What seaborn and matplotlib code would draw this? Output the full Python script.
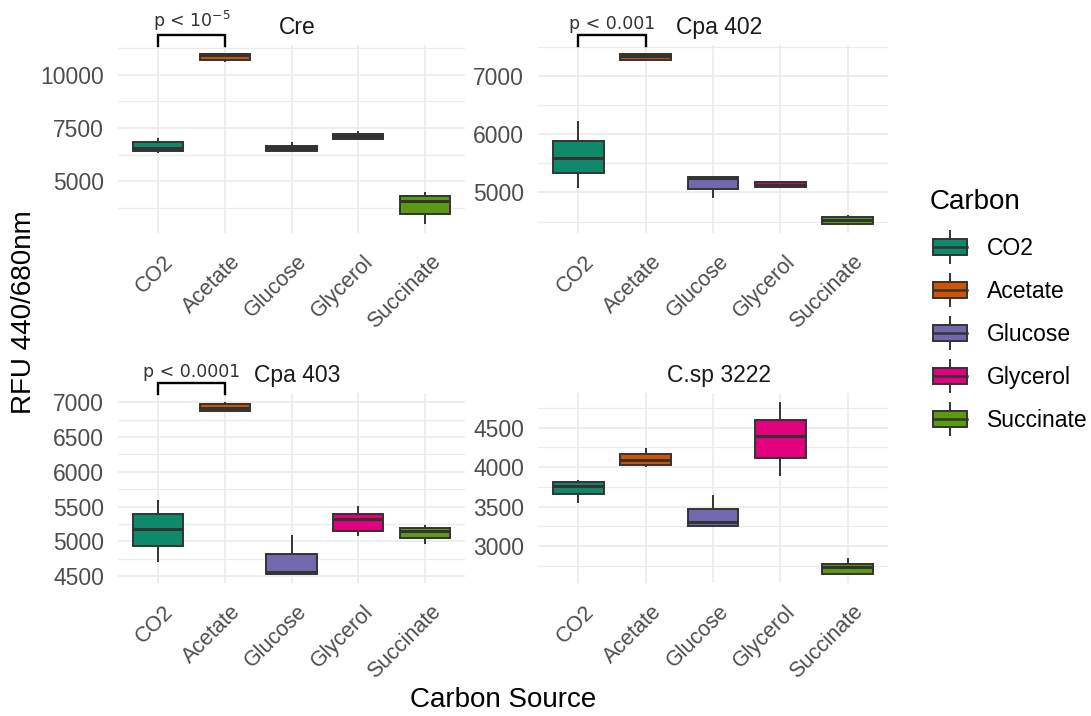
import numpy as np
import pandas as pd
import matplotlib
matplotlib.use("Agg")
import matplotlib.pyplot as plt
import seaborn as sns
import matplotlib.transforms as mtransforms
from matplotlib.legend_handler import HandlerBase
from matplotlib.patches import Rectangle, Patch
from matplotlib.lines import Line2D
from matplotlib.ticker import MultipleLocator, AutoMinorLocator

# ---------------- data ----------------
carbon = ["CO2", "Acetate", "Glucose", "Glycerol", "Succinate"]
colors = ["#0E8A6A", "#D35400", "#7069AE", "#E2007C", "#5C9A12"]
strains = ["Cre", "Cpa 402", "Cpa 403", "C.sp 3222"]

# five readings per carbon source (low, Q1, median, Q3, high)
cre = [[6320, 6430, 6560, 6844, 7034],
       [10605, 10685, 10930, 11000, 11010],
       [6430, 6430, 6540, 6668, 6844],
       [6987, 6987, 7115, 7225, 7382],
       [2955, 3431, 4069, 4288, 4497]]
cpa402 = [[5080, 5327, 5587, 5886, 6222],
          [7265, 7270, 7345, 7374, 7380],
          [4895, 5055, 5241, 5270, 5270],
          [5085, 5085, 5125, 5171, 5201],
          [4450, 4450, 4519, 4578, 4606]]
cpa403 = [[4709, 4937, 5180, 5388, 5592],
          [6879, 6879, 6917, 6976, 7010],
          [4524, 4524, 4563, 4816, 5097],
          [5073, 5155, 5316, 5388, 5510],
          [4961, 5049, 5146, 5194, 5228]]
csp3222 = [[3547, 3655, 3754, 3806, 3841],
           [4000, 4022, 4095, 4159, 4237],
           [3259, 3259, 3302, 3470, 3642],
           [3892, 4121, 4388, 4595, 4828],
           [2642, 2642, 2729, 2772, 2849]]
pvalues = ["p < 10$^{-5}$", "p < 0.001", "p < 0.0001", None]
tick_steps = [2500, 1000, 500, 500]

panel_values = [cre, cpa402, cpa403, csp3222]

# ---------------- styling ----------------
FONT = ["Liberation Sans", "DejaVu Sans"]
plt.rcParams["font.family"] = FONT
EDGE = "#333333"
TICKC = "#4D4D4D"

fig = plt.figure(figsize=(10.91, 7.16), dpi=100)
W, H = 1091, 716
# panel boxes in pixels: left, top, right, bottom
boxes = [(118, 45, 465, 233), (538, 45, 888, 233),
         (118, 393, 465, 583), (538, 393, 888, 583)]

for i, (strain, vals) in enumerate(zip(strains, panel_values)):
    l, t, r, b = boxes[i]
    ax = fig.add_axes([l / W, 1 - b / H, (r - l) / W, (b - t) / H])
    rows = []
    for c, obs in zip(carbon, vals):
        for v in obs:
            rows.append({"Carbon": c, "RFU": v})
    df = pd.DataFrame(rows)
    sns.boxplot(data=df, x="Carbon", y="RFU", hue="Carbon", order=carbon,
                hue_order=carbon, palette=colors, saturation=1, width=0.75,
                whis=(0, 100), showcaps=False, linecolor=EDGE, linewidth=1.4,
                medianprops=dict(linewidth=2.2, color=EDGE),
                legend=False, ax=ax)
    allv = np.array(vals).ravel()
    lo, hi = allv.min(), allv.max()
    pad = 0.05 * (hi - lo)
    ax.set_ylim(lo - pad, hi + pad)
    ax.set_xlim(-0.6, len(carbon) - 0.4)
    ax.yaxis.set_major_locator(MultipleLocator(tick_steps[i]))
    ax.yaxis.set_minor_locator(AutoMinorLocator(2))
    ax.set_axisbelow(True)
    ax.grid(which="major", color="#EBEBEB", linewidth=1.2)
    ax.grid(which="minor", axis="y", color="#EBEBEB", linewidth=0.9)
    for s in ax.spines.values():
        s.set_visible(False)
    ax.tick_params(which="both", length=0, labelcolor=TICKC)
    ax.tick_params(axis="y", labelsize=16.5, pad=10)
    ax.tick_params(axis="x", labelsize=15.5, pad=3)
    ax.set_xlabel("")
    ax.set_ylabel("")
    ax.set_xticks(range(len(carbon)))
    ax.set_xticklabels(carbon, rotation=45, ha="right", rotation_mode="anchor")
    off = mtransforms.ScaledTranslation(5 / 100, -14 / 100, fig.dpi_scale_trans)
    for lab in ax.get_xticklabels():
        lab.set_transform(lab.get_transform() + off)
    ax.set_title(strain, fontsize=16.5, color="#1A1A1A", pad=8, x=0.517)

    if pvalues[i] is not None:
        tr = mtransforms.blended_transform_factory(ax.transData, ax.transAxes)
        ytop = 1.055
        ybot = 0.995
        ax.plot([0, 0, 1, 1], [ybot, ytop, ytop, ybot], color="black", lw=1.7,
                transform=tr, clip_on=False, solid_joinstyle="miter")
        ax.text(0.5, ytop + 0.008, pvalues[i], transform=tr, ha="center", va="bottom",
                fontsize=12.5, color="#333333", family="DejaVu Sans")

fig.text(24 / W, 1 - 312 / H, "RFU 440/680nm", rotation=90, ha="center", va="center",
         fontsize=20, color="black")
fig.text(503 / W, 1 - 700 / H, "Carbon Source", ha="center", va="center",
         fontsize=20, color="black")


class BoxKey(HandlerBase):
    def create_artists(self, legend, orig_handle, xdescent, ydescent, width, height,
                       fontsize, trans):
        fc = orig_handle.get_facecolor()
        x0, y0 = -xdescent, -ydescent
        bx = Rectangle((x0, y0 + 0.2 * height), width, 0.6 * height, facecolor=fc,
                       edgecolor=EDGE, lw=1.4, transform=trans)
        med = Line2D([x0, x0 + width], [y0 + 0.5 * height] * 2, color=EDGE, lw=1.8,
                     transform=trans)
        w1 = Line2D([x0 + width / 2] * 2, [y0 - 0.1 * height, y0 + 0.2 * height],
                    color=EDGE, lw=1.4, transform=trans)
        w2 = Line2D([x0 + width / 2] * 2, [y0 + 0.8 * height, y0 + 1.1 * height],
                    color=EDGE, lw=1.4, transform=trans)
        return [bx, med, w1, w2]


fig.text(930 / W, 1 - 202 / H, "Carbon", ha="left", va="center", fontsize=20,
         color="black")
handles = [Patch(facecolor=c, label=l) for c, l in zip(colors, carbon)]
leg = fig.legend(handles=handles, handler_map={Patch: BoxKey()}, loc="upper left",
                 bbox_to_anchor=(933 / W, 1 - 234 / H), frameon=False,
                 fontsize=16.5, handlelength=1.5, handleheight=1.4,
                 labelspacing=0.72, handletextpad=0.85, borderaxespad=0,
                 borderpad=0)

fig.savefig("out.png", dpi=100)
